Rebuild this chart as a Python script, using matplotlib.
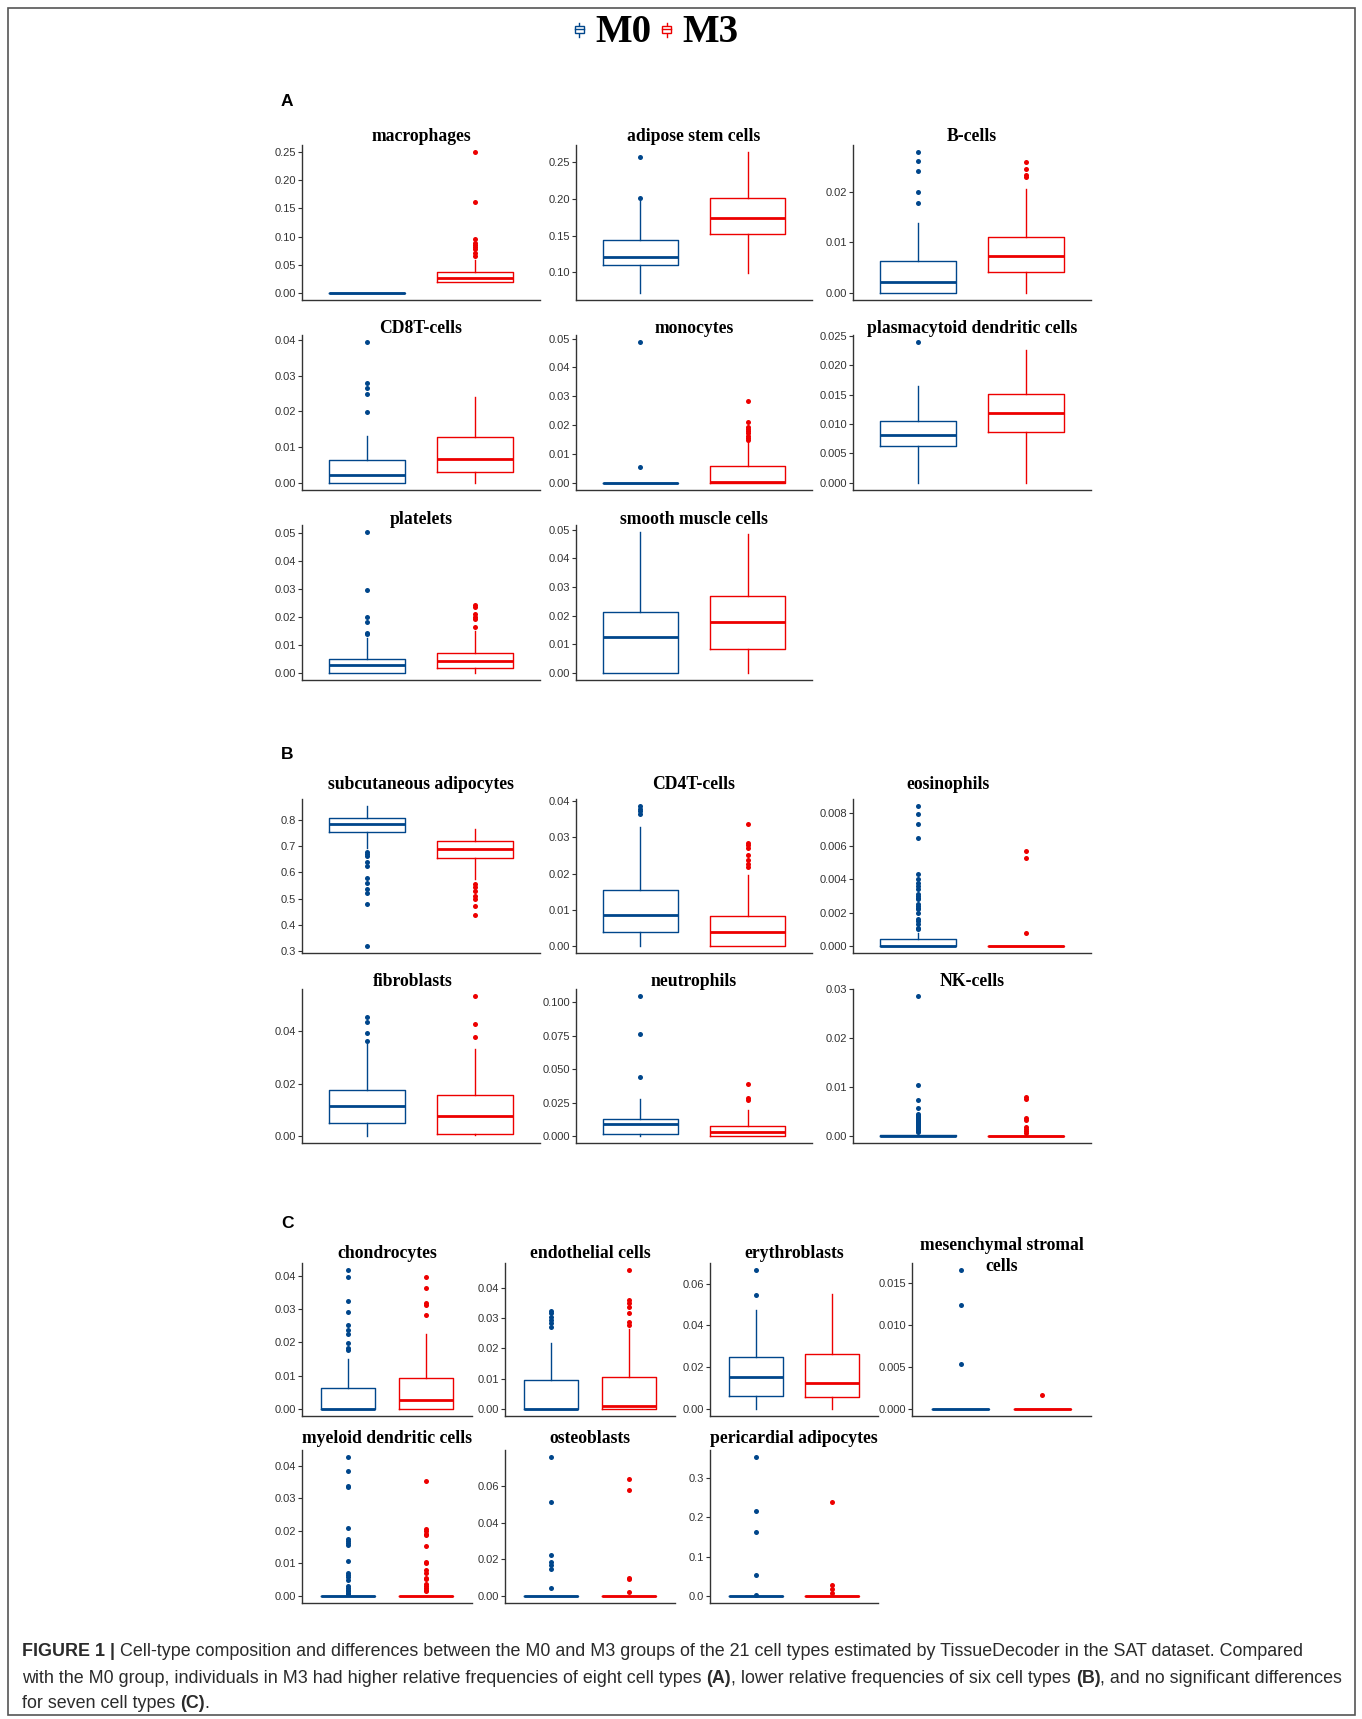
import matplotlib
matplotlib.use("Agg")
import matplotlib.pyplot as plt
from matplotlib import font_manager
from matplotlib.lines import Line2D
from matplotlib.patches import Rectangle
from matplotlib.legend_handler import HandlerBase

plt.rcParams["font.family"] = ["Liberation Sans", "DejaVu Sans"]

BLUE = "#00468B"
RED = "#ED0000"

groups = ["M0", "M3"]

cell_types = [
    "macrophages", "adipose stem cells", "B-cells",
    "CD8T-cells", "monocytes", "plasmacytoid dendritic cells",
    "platelets", "smooth muscle cells",
    "subcutaneous adipocytes", "CD4T-cells", "eosinophils",
    "fibroblasts", "neutrophils", "NK-cells",
    "chondrocytes", "endothelial cells", "erythroblasts", "mesenchymal stromal\ncells",
    "myeloid dendritic cells", "osteoblasts", "pericardial adipocytes",
]

# whisker low, Q1, median, Q3, whisker high
m0_box = [
    [0, 0, 0, 0, 0],
    [0.072, 0.110, 0.1214, 0.1447, 0.1969],
    [0, 0, 0.0022, 0.0063, 0.0138],
    [0, 0, 0.0021, 0.0063, 0.0131],
    [0, 0, 0, 0, 0],
    [0, 0.0063, 0.0082, 0.0105, 0.0164],
    [0, 0, 0.0027, 0.0051, 0.0125],
    [0, 0, 0.0126, 0.0212, 0.0492],
    [0.693, 0.7566, 0.7849, 0.8078, 0.855],
    [0, 0.0039, 0.0085, 0.0156, 0.0330],
    [0, 0, 0, 0.0004, 0.00076],
    [0, 0.0049, 0.0113, 0.0176, 0.0351],
    [0, 0.0018, 0.0090, 0.0130, 0.0279],
    [0, 0, 0, 0.0002, 0.0005],
    [0, 0, 0, 0.0063, 0.0151],
    [0, 0, 0, 0.0095, 0.0217],
    [0, 0.0062, 0.0154, 0.0250, 0.0473],
    [0, 0, 0, 0, 0],
    [0, 0, 0, 0, 0],
    [0, 0, 0, 0, 0],
    [0, 0, 0, 0, 0],
]

m3_box = [
    [0.019, 0.0203, 0.0274, 0.0374, 0.0582],
    [0.0995, 0.152, 0.174, 0.202, 0.264],
    [0, 0.0042, 0.0073, 0.0111, 0.0205],
    [0, 0.0030, 0.0068, 0.0129, 0.0240],
    [0, 0, 0.0002, 0.0058, 0.0143],
    [0, 0.0086, 0.0118, 0.0151, 0.0226],
    [0, 0.0017, 0.0042, 0.0071, 0.0150],
    [0, 0.0085, 0.0177, 0.0270, 0.0486],
    [0.574, 0.657, 0.690, 0.721, 0.767],
    [0, 0, 0.0040, 0.0084, 0.0195],
    [0, 0, 0, 0, 0],
    [0.0005, 0.0009, 0.0075, 0.0155, 0.0332],
    [0, 0.0003, 0.0028, 0.0075, 0.0192],
    [0, 0, 0, 0, 0],
    [0, 0, 0.0028, 0.0093, 0.0225],
    [0, 0, 0.0009, 0.0105, 0.0263],
    [0, 0.0056, 0.0126, 0.0263, 0.0552],
    [0, 0, 0, 0, 0],
    [0, 0, 0, 0, 0],
    [0, 0, 0, 0, 0],
    [0, 0, 0, 0, 0],
]

m0_outliers = [
    [],
    [0.202, 0.2578],
    [0.0179, 0.0200, 0.0242, 0.0262, 0.0279],
    [0.0197, 0.0250, 0.0265, 0.0280, 0.0394],
    [0.0056, 0.0488],
    [0.0239],
    [0.0140, 0.0143, 0.0182, 0.0200, 0.0298, 0.0505],
    [],
    [0.680, 0.672, 0.665, 0.642, 0.625, 0.578, 0.559, 0.536, 0.521, 0.481, 0.318],
    [0.0365, 0.0372, 0.0380, 0.0387],
    [0.0010, 0.0011, 0.0013, 0.0015, 0.0016, 0.0020, 0.0022, 0.0023, 0.0024, 0.0025,
     0.0028, 0.0029, 0.0030, 0.0031, 0.0034, 0.0036, 0.0038, 0.0040, 0.0043,
     0.0065, 0.0073, 0.0079, 0.0084],
    [0.0363, 0.0391, 0.0433, 0.0452],
    [0.0438, 0.0759, 0.1045],
    [0.0008, 0.0010, 0.0012, 0.0014, 0.0016, 0.0018, 0.0020, 0.0022, 0.0024, 0.0026,
     0.0028, 0.0030, 0.0032, 0.0034, 0.0036, 0.0038, 0.0040, 0.0042, 0.0045,
     0.0058, 0.0073, 0.0104, 0.0286],
    [0.0177, 0.0182, 0.0199, 0.0224, 0.0237, 0.0251, 0.0290, 0.0325, 0.0395, 0.0417],
    [0.0270, 0.0283, 0.0294, 0.0305, 0.0316, 0.0323],
    [0.0544, 0.0665],
    [0.0054, 0.0124, 0.0165],
    [0.0005, 0.0010, 0.0014, 0.0020, 0.0025, 0.0030, 0.0048, 0.0060, 0.0065, 0.0070,
     0.0108, 0.0157, 0.0163, 0.0170, 0.0175, 0.0208, 0.0335, 0.0338, 0.0384, 0.0427],
    [0.0042, 0.0150, 0.0168, 0.0185, 0.0223, 0.0513, 0.0759],
    [0.0017, 0.0524, 0.162, 0.2154, 0.353],
]

m3_outliers = [
    [0.0653, 0.0712, 0.0772, 0.0819, 0.0849, 0.0879, 0.0962, 0.162, 0.250],
    [],
    [0.0229, 0.0234, 0.0246, 0.0260],
    [],
    [0.0148, 0.0155, 0.0163, 0.0172, 0.0180, 0.0188, 0.0195, 0.0210, 0.0285],
    [],
    [0.0166, 0.0192, 0.0202, 0.0212, 0.0237, 0.0243],
    [],
    [0.555, 0.543, 0.530, 0.508, 0.500, 0.470, 0.438],
    [0.0218, 0.0227, 0.0238, 0.0252, 0.0270, 0.0279, 0.0285, 0.0338],
    [0.0008, 0.0053, 0.0057],
    [0.0379, 0.0429, 0.0534],
    [0.0270, 0.0280, 0.0386],
    [0.0006, 0.0010, 0.0015, 0.0018, 0.0033, 0.0037, 0.0076, 0.0080],
    [0.0281, 0.0311, 0.0318, 0.0364, 0.0395],
    [0.0277, 0.0288, 0.0318, 0.0338, 0.0351, 0.0360, 0.0459],
    [],
    [0.0017],
    [0.0016, 0.0020, 0.0025, 0.0030, 0.0037, 0.0052, 0.0055, 0.0070, 0.0080, 0.0100,
     0.0105, 0.0155, 0.0188, 0.0192, 0.0200, 0.0207, 0.0353],
    [0.0022, 0.0091, 0.0097, 0.0576, 0.0640],
    [0.0068, 0.0169, 0.0279, 0.238],
]

tick_labels = [
    ["0.00", "0.05", "0.10", "0.15", "0.20", "0.25"],
    ["0.10", "0.15", "0.20", "0.25"],
    ["0.00", "0.01", "0.02"],
    ["0.00", "0.01", "0.02", "0.03", "0.04"],
    ["0.00", "0.01", "0.02", "0.03", "0.04", "0.05"],
    ["0.000", "0.005", "0.010", "0.015", "0.020", "0.025"],
    ["0.00", "0.01", "0.02", "0.03", "0.04", "0.05"],
    ["0.00", "0.01", "0.02", "0.03", "0.04", "0.05"],
    ["0.3", "0.4", "0.5", "0.6", "0.7", "0.8"],
    ["0.00", "0.01", "0.02", "0.03", "0.04"],
    ["0.000", "0.002", "0.004", "0.006", "0.008"],
    ["0.00", "0.02", "0.04"],
    ["0.000", "0.025", "0.050", "0.075", "0.100"],
    ["0.00", "0.01", "0.02", "0.03"],
    ["0.00", "0.01", "0.02", "0.03", "0.04"],
    ["0.00", "0.01", "0.02", "0.03", "0.04"],
    ["0.00", "0.02", "0.04", "0.06"],
    ["0.000", "0.005", "0.010", "0.015"],
    ["0.00", "0.01", "0.02", "0.03", "0.04"],
    ["0.00", "0.02", "0.04", "0.06"],
    ["0.0", "0.1", "0.2", "0.3"],
]

panel_letters = ["A", "B", "C"]

caption = [
    [("FIGURE 1 |", True),
     (" Cell-type composition and differences between the M0 and M3 groups of the 21 cell types "
      "estimated by TissueDecoder in the SAT dataset. Compared", False)],
    [("with the M0 group, individuals in M3 had higher relative frequencies of eight cell types", False),
     (" (A)", True), (", lower relative frequencies of six cell types", False), (" (B)", True),
     (", and no significant differences", False)],
    [("for seven cell types", False), (" (C)", True), (".", False)],
]

# ---------------- layout (pixels) ----------------
W, H = 1362, 1719
fig = plt.figure(figsize=(W / 100, H / 100), dpi=100)

ab_cols = [(302, 540), (576, 812), (853, 1091)]
c_cols = [(302, 472), (505, 675), (710, 878), (912, 1091)]
# (top, height, title pad in pt, columns used)
rows = [
    (145, 155, 3.0, ab_cols[:3]),
    (335, 155, 1.5, ab_cols[:3]),
    (525, 155, 0.8, ab_cols[:2]),
    (799, 154, 7.0, ab_cols[:3]),
    (989, 154, 2.0, ab_cols[:3]),
    (1263, 153, 3.6, c_cols),
    (1450, 153, 5.0, c_cols),
]
title_shift = {"eosinophils": -24, "fibroblasts": -8}

slots = []
for top, h, pad, cols in rows:
    for left, right in cols:
        slots.append((left, top, right - left, h, pad))


def draw_group(ax, box, out, pos, color):
    lo, q1, med, q3, hi = box
    stats = [dict(whislo=lo, q1=q1, med=med, q3=q3, whishi=hi, fliers=out)]
    return ax.bxp(stats, positions=[pos], widths=0.7, showcaps=False, manage_ticks=False,
                  boxprops=dict(color=color, lw=1.0),
                  whiskerprops=dict(color=color, lw=1.0),
                  medianprops=dict(color=color, lw=2.0),
                  flierprops=dict(marker="o", markerfacecolor=color, markeredgecolor=color,
                                  markersize=3.6, markeredgewidth=0))


handles = []
for i, name in enumerate(cell_types):
    left, top, w, h, pad = slots[i]
    ax = fig.add_axes([left / W, 1 - (top + h) / H, w / W, h / H])
    ax.patch.set_alpha(0)
    b0 = draw_group(ax, m0_box[i], m0_outliers[i], 1, BLUE)
    b1 = draw_group(ax, m3_box[i], m3_outliers[i], 2, RED)
    if i == 0:
        handles = [b0["medians"][0], b1["medians"][0]]

    vals = m0_box[i] + m3_box[i] + m0_outliers[i] + m3_outliers[i]
    lo, hi = min(vals), max(vals)
    span = hi - lo
    ax.set_ylim(lo - 0.05 * span, hi + 0.05 * span)
    ax.set_xlim(0.4, 2.6)
    ax.set_xticks([])
    ax.set_yticks([float(t) for t in tick_labels[i]])
    ax.set_yticklabels(tick_labels[i])
    ax.tick_params(axis="y", labelsize=8, labelcolor="#333333", color="#333333",
                   length=2.75, width=0.8, pad=1.5)
    for s in ["top", "right"]:
        ax.spines[s].set_visible(False)
    for s in ["left", "bottom"]:
        ax.spines[s].set_color("#333333")
        ax.spines[s].set_linewidth(1.0)

    tfont = dict(fontsize=12.7, fontweight="bold", family="Liberation Serif")
    if "\n" in name:
        # two-line title hangs down into the panel, as in the original
        ax.text(0.5, 1 + 7 / h, name, transform=ax.transAxes, ha="center", va="center",
                linespacing=1.25, **tfont)
    else:
        t = ax.set_title(name, y=1.0, pad=pad, **tfont)
        if name in title_shift:
            t.set_x(0.5 + title_shift[name] / w)

# panel letters
for letter, (x, y) in zip(panel_letters, [(281, 101), (281, 754), (281, 1223)]):
    fig.text(x / W, 1 - y / H, letter, fontsize=12.5, fontweight="bold", ha="left", va="center")


# legend with small boxplot keys
class BoxKey(HandlerBase):
    def create_artists(self, legend, orig_handle, xdescent, ydescent, width, height, fontsize, trans):
        c = orig_handle.get_color()
        cx = width / 2 - xdescent
        y0 = -ydescent
        bw = 0.55 * width
        whisk = Line2D([cx, cx], [y0 + 0.22 * height, y0 + 0.72 * height], color=c, lw=1.0, transform=trans)
        box = Rectangle((cx - bw / 2, y0 + 0.36 * height), bw, 0.24 * height,
                        facecolor="white", edgecolor=c, lw=1.0, transform=trans)
        med = Line2D([cx - bw / 2, cx + bw / 2], [y0 + 0.48 * height] * 2, color=c, lw=1.0, transform=trans)
        return [whisk, box, med]


fig.legend(handles, groups, loc="center", bbox_to_anchor=(655 / W, 1 - 33 / H), ncol=2,
           frameon=False, handler_map={Line2D: BoxKey()}, handlelength=0.4, handleheight=0.7,
           handletextpad=0.2, columnspacing=0.2, borderpad=0, borderaxespad=0,
           prop=dict(family="Liberation Serif", weight="bold", size=28))

# caption, sized so the longest line ends where it does in the original
names = {f.name for f in font_manager.fontManager.ttflist}
cap_family = "Liberation Sans Narrow" if "Liberation Sans Narrow" in names else "Liberation Sans"
renderer = fig.canvas.get_renderer()


def text_width(s, size, bold):
    t = fig.text(0, 0, s, fontsize=size, family=cap_family, fontweight="bold" if bold else "normal")
    wpx = t.get_window_extent(renderer).width
    t.remove()
    return wpx


def line_width(parts, size):
    sp = text_width("x x", size, False) - text_width("xx", size, False)
    total = 0
    for s, b in parts:
        if s.startswith(" "):
            total += sp
        total += text_width(s.strip(), size, b)
    return total


base = 10.0
longest = max(line_width(p, base) for p in caption)
cap_size = base * (1326 / longest)
space_w = text_width("x x", cap_size, False) - text_width("xx", cap_size, False)

for parts, yb in zip(caption, [1656, 1683, 1708]):
    x = 22
    for s, bold in parts:
        if s.startswith(" "):
            x += space_w
            s = s.lstrip()
        t = fig.text(x / W, 1 - yb / H, s, fontsize=cap_size, family=cap_family, color="#2b2b2b",
                     fontweight="bold" if bold else "normal", ha="left", va="baseline")
        x = t.get_window_extent(renderer).x1

# outer frame
fig.add_artist(Rectangle((8 / W, 1 - 1715 / H), 1347 / W, 1707 / H, transform=fig.transFigure,
                         fill=False, edgecolor="#555555", lw=1.2))

fig.savefig("out.png", dpi=100)
